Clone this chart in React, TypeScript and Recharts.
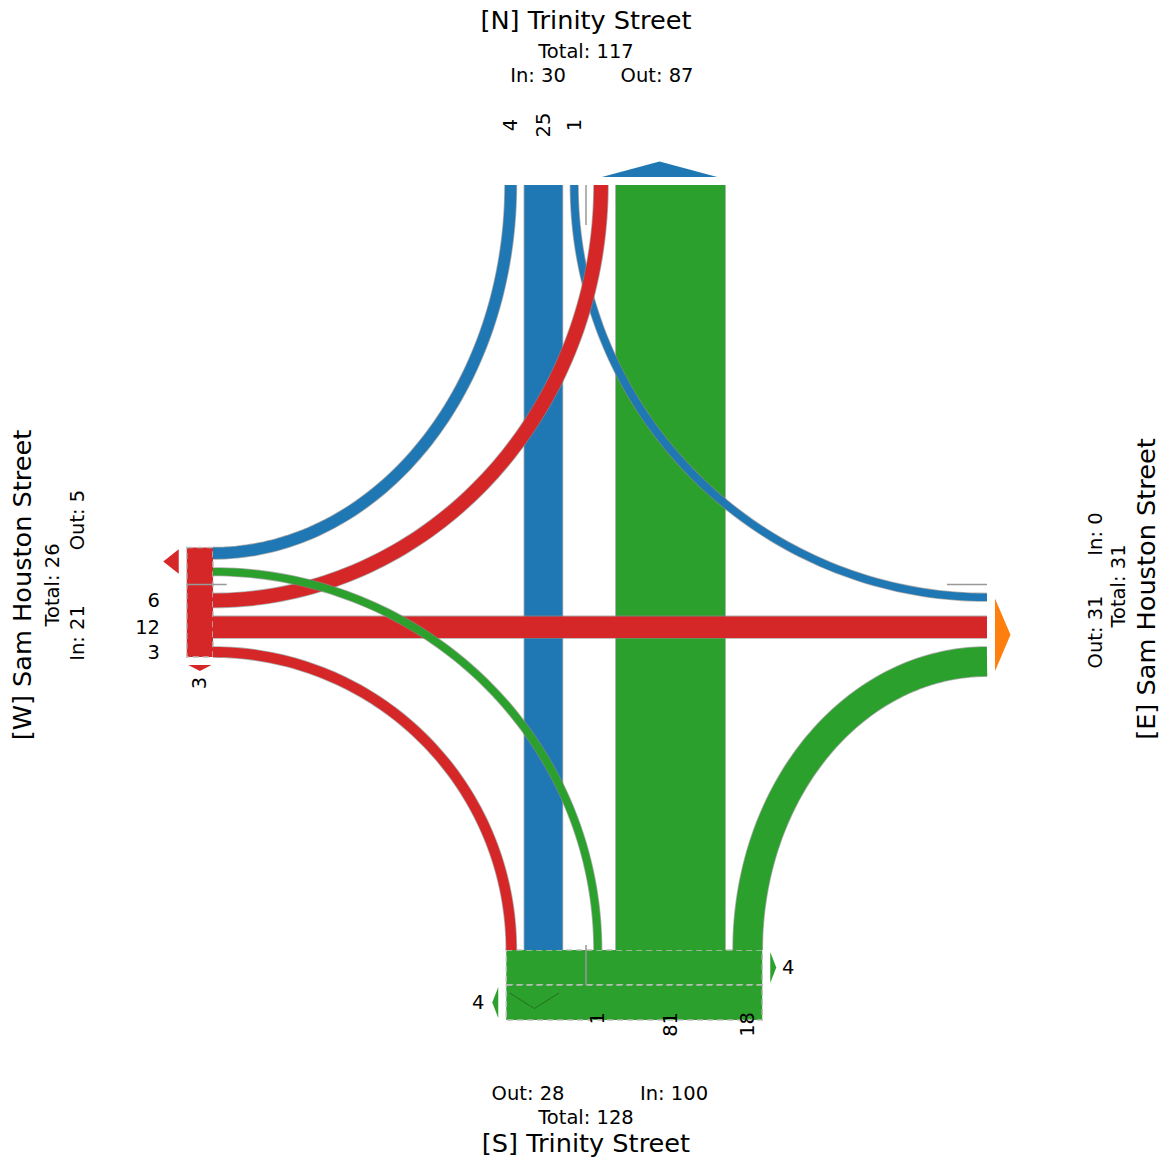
import React from 'react';
import { ComposedChart, Line, Area, XAxis, YAxis, ReferenceArea, ReferenceLine } from 'recharts';

const CHART_W = 1164;
const CHART_H = 1162;

// ---------------- data ----------------
const APPROACHES = ['N', 'E', 'S', 'W'];
const APPROACH_NAMES = ['[N] Trinity Street', '[E] Sam Houston Street', '[S] Trinity Street', '[W] Sam Houston Street'];
const APPROACH_COLORS = ['#1f77b4', '#ff7f0e', '#2ca02c', '#d62728'];

const FLOW_FROM = ['N', 'N', 'N', 'E', 'E', 'E', 'S', 'S', 'S', 'W', 'W', 'W'];
const FLOW_TO = ['E', 'S', 'W', 'S', 'W', 'N', 'W', 'N', 'E', 'N', 'E', 'S'];
const FLOW_COUNTS = [1, 25, 4, 0, 0, 0, 1, 81, 18, 6, 12, 3];

const PED_APPROACH = ['W', 'S', 'S'];
const PED_DIRECTION = ['S', 'E', 'W'];
const PED_COUNTS = [3, 4, 4];

// ---------------- layout / style ----------------
const CENTER_X = 586;
const CENTER_Y = 584.5;
const EDGE: Record<string, number> = { N: 185, E: 987, S: 950, W: 213 };
const LANE_GAP: Record<string, number> = { N: 8, S: 8, E: 9, W: 9 };
const IN_SIGN: Record<string, number> = { N: -1, E: -1, S: 1, W: 1 };
const OUT_DIR: Record<string, number> = { N: -1, E: 1, S: 1, W: -1 };
const PED_DEPTH = 8.75;
const laneWidth = (v: number) => 6.3 + 1.27 * v;
const FONT = 'DejaVu Sans';
const TITLE_SIZE = 25.6;
const SUB_SIZE = 19.5;

const LABELS: Record<string, any> = {
  N: { rot: false, title: [586, 20], total: [586, 51], inl: [538, 75], outl: [657, 75], lane: { pos: 125, anchor: 'middle' } },
  S: { rot: false, title: [586, 1143], total: [586, 1117], inl: [674, 1093], outl: [528, 1093], lane: { pos: 1012, anchor: 'end' } },
  W: { rot: true, title: [22, 585], total: [52, 585], inl: [77, 633], outl: [77, 520], lane: { pos: 160, anchor: 'end' } },
  E: { rot: true, title: [1146, 589], total: [1118, 586], inl: [1095, 534], outl: [1095, 632], lane: { pos: 1027, anchor: 'start' } },
};

// ---------------- helpers ----------------
const idx = (a: string) => APPROACHES.indexOf(a);
const rel = (a: string, k: number) => APPROACHES[(idx(a) + k) % 4];
const isNS = (a: string) => a === 'N' || a === 'S';
const colorOf = (a: string) => APPROACH_COLORS[idx(a)];
const divider = (a: string) => (isNS(a) ? CENTER_X : CENTER_Y);
const count = (from: string, to: string) => {
  for (let i = 0; i < FLOW_FROM.length; i++) if (FLOW_FROM[i] === from && FLOW_TO[i] === to) return FLOW_COUNTS[i];
  return 0;
};
const inTotal = (a: string) => FLOW_FROM.reduce((s, f, i) => (f === a ? s + FLOW_COUNTS[i] : s), 0);
const outTotal = (a: string) => FLOW_TO.reduce((s, f, i) => (f === a ? s + FLOW_COUNTS[i] : s), 0);

const innerSize = (a: string, v: number) => (v > 0 ? LANE_GAP[a] + laneWidth(v) + LANE_GAP[a] : LANE_GAP[a]);
const throughOffset = (from: string) => {
  const to = rel(from, 2);
  return Math.max(innerSize(from, count(from, rel(from, 1))), innerSize(to, count(rel(to, 3), to)));
};

type Lane = { from: string; to: string; value: number; lo: number; hi: number; center: number; width: number };

const LANES: Record<string, { in: Lane[]; out: Lane[] }> = {};
APPROACHES.forEach((a) => {
  const g = LANE_GAP[a];
  const d0 = divider(a);
  const make = (list: any[], sign: number, thr: number) => {
    let pos = g;
    const res: Lane[] = [];
    list.forEach((f, k) => {
      if (f.value <= 0) return;
      if (k === 1) pos = thr;
      const w = laneWidth(f.value);
      const p1 = d0 + sign * pos;
      const p2 = d0 + sign * (pos + w);
      res.push({ ...f, lo: Math.min(p1, p2), hi: Math.max(p1, p2), center: d0 + sign * (pos + w / 2), width: w });
      pos += w + g;
    });
    return res;
  };
  const inList = [1, 2, 3].map((k) => ({ from: a, to: rel(a, k), value: count(a, rel(a, k)) }));
  const outList = [3, 2, 1].map((k) => ({ from: rel(a, k), to: a, value: count(rel(a, k), a) }));
  LANES[a] = {
    in: make(inList, IN_SIGN[a], throughOffset(a)),
    out: make(outList, -IN_SIGN[a], throughOffset(rel(a, 2))),
  };
});

const extent = (lanes: Lane[]) =>
  lanes.length ? [Math.min(...lanes.map((l) => l.lo)), Math.max(...lanes.map((l) => l.hi))] : null;

// flows
const flowGeometry = (from: string, to: string) => {
  const a = LANES[from].in.find((l) => l.to === to)!;
  const b = LANES[to].out.find((l) => l.from === from)!;
  const P = isNS(from) ? { x: a.center, y: EDGE[from] } : { x: EDGE[from], y: a.center };
  const Q = isNS(to) ? { x: b.center, y: EDGE[to] } : { x: EDGE[to], y: b.center };
  if (rel(from, 2) === to) return { pts: [P, Q], width: a.width };
  const pts: { x: number; y: number }[] = [];
  const n = 80;
  for (let i = 0; i <= n; i++) {
    const t = (i / n) * (Math.PI / 2);
    if (isNS(from)) pts.push({ x: Q.x + (P.x - Q.x) * Math.cos(t), y: P.y + (Q.y - P.y) * Math.sin(t) });
    else pts.push({ x: P.x + (Q.x - P.x) * Math.sin(t), y: Q.y + (P.y - Q.y) * Math.cos(t) });
  }
  return { pts, width: a.width };
};

const flowIdx = FLOW_COUNTS.map((_, i) => i).filter((i) => FLOW_COUNTS[i] > 0);
const throughIdx = flowIdx.filter((i) => rel(FLOW_FROM[i], 2) === FLOW_TO[i]);
const TURN_ORDER = ['N', 'E', 'W', 'S'];
const turnIdx = TURN_ORDER.flatMap((a) => flowIdx.filter((i) => FLOW_FROM[i] === a && rel(a, 2) !== FLOW_TO[i]));
const FLOWS = [...throughIdx, ...turnIdx].map((i) => ({
  key: `${FLOW_FROM[i]}${FLOW_TO[i]}`,
  color: colorOf(FLOW_FROM[i]),
  ...flowGeometry(FLOW_FROM[i], FLOW_TO[i]),
}));

// ped boxes
const pedUsed: Record<string, number> = { N: 0, E: 0, S: 0, W: 0 };
const PED_BOXES = PED_APPROACH.map((a, i) => {
  const depth = PED_DEPTH * PED_COUNTS[i];
  const ext = extent([...LANES[a].in, ...LANES[a].out])!;
  const s = EDGE[a] + OUT_DIR[a] * pedUsed[a];
  const e = s + OUT_DIR[a] * depth;
  pedUsed[a] += depth;
  const along = [Math.min(s, e), Math.max(s, e)];
  const box = isNS(a)
    ? { x1: ext[0], x2: ext[1], y1: along[0], y2: along[1] }
    : { x1: along[0], x2: along[1], y1: ext[0], y2: ext[1] };
  const dir = PED_DIRECTION[i];
  const positive = dir === 'E' || dir === 'S';
  const base = positive ? ext[1] + 8 : ext[0] - 8;
  const tip = base + (positive ? 6 : -6);
  const mid = (along[0] + along[1]) / 2;
  let arrow: any[];
  let label: any;
  if (isNS(a)) {
    arrow = [
      { x: base, r: [along[0] + 2, along[1] - 2] },
      { x: tip, r: [mid, mid] },
    ];
    label = { x: tip + (positive ? 12 : -14), y: mid, rot: false };
  } else {
    arrow = [
      { x: along[0] + 1.5, r: [base, base] },
      { x: mid, r: [base, tip] },
      { x: along[1] - 1.5, r: [base, base] },
    ];
    label = { x: mid, y: tip + (positive ? 12 : -12), rot: true };
  }
  return { a, box, arrow, label, value: PED_COUNTS[i], color: colorOf(a) };
});

const firstPed: Record<string, number> = { N: 0, E: 0, S: 0, W: 0 };
const seenPed: Record<string, boolean> = {};
PED_APPROACH.forEach((a, i) => {
  if (!seenPed[a]) {
    firstPed[a] = PED_DEPTH * PED_COUNTS[i];
    seenPed[a] = true;
  }
});

// dividers
const DIVIDERS = APPROACHES.map((a) => {
  const s = EDGE[a] + OUT_DIR[a] * firstPed[a];
  const e = s - OUT_DIR[a] * 40;
  return isNS(a)
    ? [{ x: CENTER_X, y: s }, { x: CENTER_X, y: e }]
    : [{ x: s, y: CENTER_Y }, { x: e, y: CENTER_Y }];
});

// exit humps
const HUMPS = APPROACHES.filter((a) => LANES[a].out.length > 0).map((a) => {
  const ext = extent(LANES[a].out)!;
  const inset = (ext[1] - ext[0]) * 0.06;
  const lo = ext[0] + inset;
  const hi = ext[1] - inset;
  const mid = (lo + hi) / 2;
  const outer = EDGE[a] + OUT_DIR[a] * (firstPed[a] + 8);
  const apex = outer + OUT_DIR[a] * 15.5;
  const pts = isNS(a)
    ? [
        { x: lo, r: [outer, outer] },
        { x: mid, r: [outer, apex] },
        { x: hi, r: [outer, outer] },
      ]
    : [
        { x: outer, r: [lo, hi] },
        { x: apex, r: [mid, mid] },
      ];
  const edge = isNS(a)
    ? [
        { x: lo, y: outer },
        { x: mid, y: apex },
        { x: hi, y: outer },
      ]
    : [
        { x: outer, y: lo },
        { x: apex, y: mid },
        { x: outer, y: hi },
      ];
  const overBox = pedUsed[a] > firstPed[a];
  return { a, pts, edge, color: colorOf(a), overBox };
});

// ---------------- text ----------------
const Label = ({ x, y, text, size, rot, anchor = 'middle' }: any) => (
  <text
    x={x}
    y={y}
    fontSize={size}
    textAnchor={anchor}
    dominantBaseline="central"
    fill="#000"
    transform={rot ? `rotate(-90 ${x} ${y})` : undefined}
  >
    {text}
  </text>
);

const TextOverlay = () => {
  const items: any[] = [];
  APPROACHES.forEach((a, i) => {
    const L = LABELS[a];
    const inn = inTotal(a);
    const out = outTotal(a);
    items.push(<Label key={`t${a}`} x={L.title[0]} y={L.title[1]} text={APPROACH_NAMES[i]} size={TITLE_SIZE} rot={L.rot} />);
    items.push(<Label key={`s${a}`} x={L.total[0]} y={L.total[1]} text={`Total: ${inn + out}`} size={SUB_SIZE} rot={L.rot} />);
    items.push(<Label key={`i${a}`} x={L.inl[0]} y={L.inl[1]} text={`In: ${inn}`} size={SUB_SIZE} rot={L.rot} />);
    items.push(<Label key={`o${a}`} x={L.outl[0]} y={L.outl[1]} text={`Out: ${out}`} size={SUB_SIZE} rot={L.rot} />);
    LANES[a].in.forEach((l) => {
      const ns = isNS(a);
      const x = ns ? l.center : L.lane.pos;
      const y = ns ? L.lane.pos : l.center;
      items.push(
        <Label key={`l${a}${l.to}`} x={x} y={y} text={String(l.value)} size={SUB_SIZE} rot={ns} anchor={L.lane.anchor} />
      );
    });
  });
  PED_BOXES.forEach((p, i) => {
    items.push(<Label key={`p${i}`} x={p.label.x} y={p.label.y} text={String(p.value)} size={SUB_SIZE} rot={p.label.rot} />);
  });
  return (
    <svg
      width={CHART_W}
      height={CHART_H}
      style={{ position: 'absolute', left: 0, top: 0, pointerEvents: 'none' }}
      fontFamily={FONT}
    >
      {items}
    </svg>
  );
};

export default function App() {
  return (
    <div style={{ position: 'absolute', left: 0, top: 0, width: CHART_W, height: CHART_H, background: '#fff' }}>
      <ComposedChart width={CHART_W} height={CHART_H} margin={{ top: 0, right: 0, bottom: 0, left: 0 }}>
        <XAxis type="number" dataKey="x" domain={[0, CHART_W]} hide allowDataOverflow />
        <YAxis type="number" domain={[0, CHART_H]} reversed hide allowDataOverflow />
        {PED_BOXES.map((p, i) => (
          <ReferenceArea
            key={`box${i}`}
            x1={p.box.x1}
            x2={p.box.x2}
            y1={p.box.y1}
            y2={p.box.y2}
            fill={p.color}
            fillOpacity={1}
            stroke="#bdbdbd"
            strokeWidth={1.5}
            strokeDasharray="6 4"
            ifOverflow="visible"
          />
        ))}
        {FLOWS.flatMap((f) => [
          <Line
            key={`${f.key}-edge`}
            data={f.pts}
            dataKey="y"
            type="linear"
            stroke="#8a8a8a"
            strokeOpacity={0.7}
            strokeWidth={f.width + 1.6}
            dot={false}
            activeDot={false}
            legendType="none"
            isAnimationActive={false}
          />,
          <Line
            key={`${f.key}-fill`}
            data={f.pts}
            dataKey="y"
            type="linear"
            stroke={f.color}
            strokeWidth={f.width}
            dot={false}
            activeDot={false}
            legendType="none"
            isAnimationActive={false}
          />,
        ])}
        {HUMPS.map((h) => (
          <Area
            key={`hump${h.a}`}
            data={h.pts}
            dataKey="r"
            type="linear"
            fill={h.color}
            fillOpacity={1}
            stroke="none"
            dot={false}
            activeDot={false}
            legendType="none"
            isAnimationActive={false}
          />
        ))}
        {HUMPS.filter((h) => h.overBox).map((h) => (
          <Line
            key={`humpedge${h.a}`}
            data={h.edge}
            dataKey="y"
            type="linear"
            stroke="#1b5e1b"
            strokeOpacity={0.7}
            strokeWidth={1}
            dot={false}
            activeDot={false}
            legendType="none"
            isAnimationActive={false}
          />
        ))}
        {PED_BOXES.map((p, i) => (
          <Area
            key={`parrow${i}`}
            data={p.arrow}
            dataKey="r"
            type="linear"
            fill={p.color}
            fillOpacity={1}
            stroke="none"
            dot={false}
            activeDot={false}
            legendType="none"
            isAnimationActive={false}
          />
        ))}
        {DIVIDERS.map((seg, i) => (
          <ReferenceLine key={`div${i}`} segment={seg} stroke="#999999" strokeWidth={1.5} ifOverflow="visible" />
        ))}
      </ComposedChart>
      <TextOverlay />
    </div>
  );
}
